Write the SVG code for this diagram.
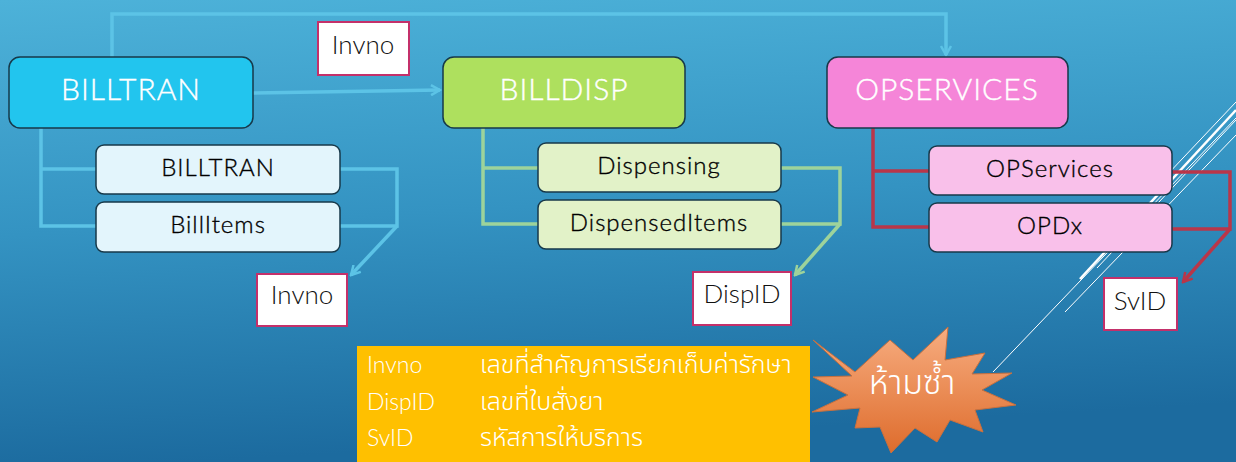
<svg xmlns="http://www.w3.org/2000/svg" width="1236" height="462" viewBox="0 0 1236 462">
<defs>
<linearGradient id="bg" x1="0" y1="0" x2="0.15" y2="1">
<stop offset="0" stop-color="#4db2d9"/>
<stop offset="0.5" stop-color="#3493c2"/>
<stop offset="1" stop-color="#1c6b9f"/>
</linearGradient>
<linearGradient id="star" x1="0" y1="0" x2="0" y2="1">
<stop offset="0" stop-color="#f7ad80"/>
<stop offset="1" stop-color="#de6c2c"/>
</linearGradient>
<marker id="arB" viewBox="0 0 12 12" refX="10" refY="6" markerWidth="12" markerHeight="12" markerUnits="userSpaceOnUse" orient="auto"><path d="M1,1 L10,6 L1,11" fill="none" stroke="#5cc3e6" stroke-width="2.5"/></marker>
<marker id="arG" viewBox="0 0 12 12" refX="10" refY="6" markerWidth="12" markerHeight="12" markerUnits="userSpaceOnUse" orient="auto"><path d="M1,1 L10,6 L1,11" fill="none" stroke="#9dd39b" stroke-width="2.5"/></marker>
<marker id="arR" viewBox="0 0 12 12" refX="10" refY="6" markerWidth="12" markerHeight="12" markerUnits="userSpaceOnUse" orient="auto"><path d="M1,1 L10,6 L1,11" fill="none" stroke="#b93649" stroke-width="2.5"/></marker>
</defs>
<style>
.main{stroke:#17394a;stroke-width:1.5}
.sub{stroke:#17394a;stroke-width:1.5}
.mt{font-family:Lato,"Liberation Sans",sans-serif;font-size:30px;font-weight:300;fill:#fff;stroke:#fff;stroke-width:0.4;text-anchor:middle;letter-spacing:1px}
.st{font-family:Lato,"Liberation Sans",sans-serif;font-size:24px;font-weight:300;fill:#000;stroke:#000;stroke-width:0.35;text-anchor:middle;letter-spacing:1px}
.key{fill:#fff;stroke:#c4306a;stroke-width:2}
.kt{font-family:Lato,"Liberation Sans",sans-serif;font-size:26px;font-weight:300;fill:#111;text-anchor:middle}
.cb{fill:none;stroke:#5cc3e6;stroke-width:3.5}
.cg{fill:none;stroke:#9dd39b;stroke-width:3.5}
.cr{fill:none;stroke:#b93649;stroke-width:3.5}
.deco{stroke:#fff;fill:none}
.lt{font-family:Lato,"Liberation Sans",sans-serif;font-size:23px;font-weight:300;fill:#fff}
.th{font-family:"Noto Sans Thai","Noto Sans","DejaVu Sans",sans-serif;font-size:25px;font-weight:300;fill:#fff}
</style>
<rect width="1236" height="462" fill="url(#bg)"/>
<g id="decor">
<line class="deco" x1="993" y1="372" x2="1236" y2="118" stroke-width="1"/>
<line class="deco" x1="1065" y1="312" x2="1236" y2="135" stroke-width="1"/>
<line class="deco" x1="1080" y1="279" x2="1236" y2="110" stroke-width="2.5"/>
<line class="deco" x1="1097" y1="268" x2="1236" y2="120" stroke-width="1"/>
<line class="deco" x1="1148" y1="195" x2="1236" y2="102" stroke-width="1"/>
</g>
<g id="connectors">
<polyline class="cb" points="112,60 112,14 946,14 946,55" marker-end="url(#arB)"/>
<line class="cb" x1="253" y1="93" x2="440" y2="90" marker-end="url(#arB)"/>
<polyline class="cb" points="41,128 41,226 96,226"/>
<line class="cb" x1="41" y1="169" x2="96" y2="169"/>
<polyline class="cb" points="340,169 397,169 397,226 340,226"/>
<line class="cb" x1="397" y1="226" x2="351" y2="275" marker-end="url(#arB)"/>
<polyline class="cg" points="483,126 483,224 538,224"/>
<line class="cg" x1="483" y1="168" x2="538" y2="168"/>
<polyline class="cg" points="781,168 840,168 840,224 781,224"/>
<line class="cg" x1="840" y1="224" x2="795" y2="275" marker-end="url(#arG)"/>
<polyline class="cr" points="873,128 873,227 929,227"/>
<line class="cr" x1="873" y1="171" x2="929" y2="171"/>
<polyline class="cr" points="1172,172 1230,172 1230,229 1172,229"/>
<line class="cr" x1="1230" y1="229" x2="1183" y2="282" marker-end="url(#arR)"/>
</g>
<g id="billtran">
<rect class="main" x="9" y="57" width="244" height="71" rx="11" fill="#22c5ee"/>
<text class="mt" x="131" y="100">BILLTRAN</text>
</g>
<g id="billtran-sub">
<rect class="sub" x="96" y="145" width="244" height="49" rx="8" fill="#e3f5fc"/>
<text class="st" x="218" y="176">BILLTRAN</text>
</g>
<g id="billitems">
<rect class="sub" x="96" y="202" width="244" height="50" rx="8" fill="#e3f5fc"/>
<text class="st" x="218" y="233">BillItems</text>
</g>
<g id="billdisp">
<rect class="main" x="443" y="57" width="242" height="71" rx="11" fill="#aee05e"/>
<text class="mt" x="564" y="100">BILLDISP</text>
</g>
<g id="dispensing">
<rect class="sub" x="538" y="143" width="243" height="49" rx="8" fill="#e2f2c8"/>
<text class="st" x="659" y="174">Dispensing</text>
</g>
<g id="dispenseditems">
<rect class="sub" x="538" y="200" width="243" height="49" rx="8" fill="#e2f2c8"/>
<text class="st" x="659" y="231">DispensedItems</text>
</g>
<g id="opservices">
<rect class="main" x="827" y="57" width="241" height="71" rx="11" fill="#f585d8"/>
<text class="mt" x="947" y="100">OPSERVICES</text>
</g>
<g id="opservices-sub">
<rect class="sub" x="929" y="146" width="243" height="49" rx="8" fill="#f9c0ea"/>
<text class="st" x="1050" y="177">OPServices</text>
</g>
<g id="opdx">
<rect class="sub" x="929" y="203" width="243" height="49" rx="8" fill="#f9c0ea"/>
<text class="st" x="1050" y="234">OPDx</text>
</g>
<g id="key-invno-top">
<rect class="key" x="318" y="22" width="91" height="53"/>
<text class="kt" x="363" y="54">Invno</text>
</g>
<g id="key-invno">
<rect class="key" x="257" y="274" width="90" height="52"/>
<text class="kt" x="302" y="304">Invno</text>
</g>
<g id="key-dispid">
<rect class="key" x="693" y="272" width="98" height="53"/>
<text class="kt" x="742" y="303">DispID</text>
</g>
<g id="key-svid">
<rect class="key" x="1104" y="278" width="73" height="52"/>
<text class="kt" x="1140" y="310">SvID</text>
</g>
<g id="legend">
<rect x="357" y="346" width="453" height="116" fill="#ffc000"/>
<text class="lt" x="367" y="373">Invno</text>
<text class="th" x="480" y="373">เลขที่สำคัญการเรียกเก็บค่ารักษา</text>
<text class="lt" x="367" y="410">DispID</text>
<text class="th" x="480" y="410">เลขที่ใบสั่งยา</text>
<text class="lt" x="367" y="446">SvID</text>
<text class="th" x="480" y="446">รหัสการให้บริการ</text>
</g>
<g id="starburst">
<polygon points="813,340 855,372 890,340 913,360 948,327 945,360 985,353 972,374 1012,373 982,390 1016,405 975,410 983,432 950,420 937,442 915,428 891,453 880,427 855,428 860,408 812,412 848,395 813,377 852,376" fill="url(#star)" stroke="#c8703e" stroke-width="1"/>
<text x="912" y="394" font-family="'Noto Sans Thai','Noto Sans','DejaVu Sans',sans-serif" font-size="34" font-weight="300" fill="#fff" text-anchor="middle">ห้ามซ้ำ</text>
</g>
</svg>
